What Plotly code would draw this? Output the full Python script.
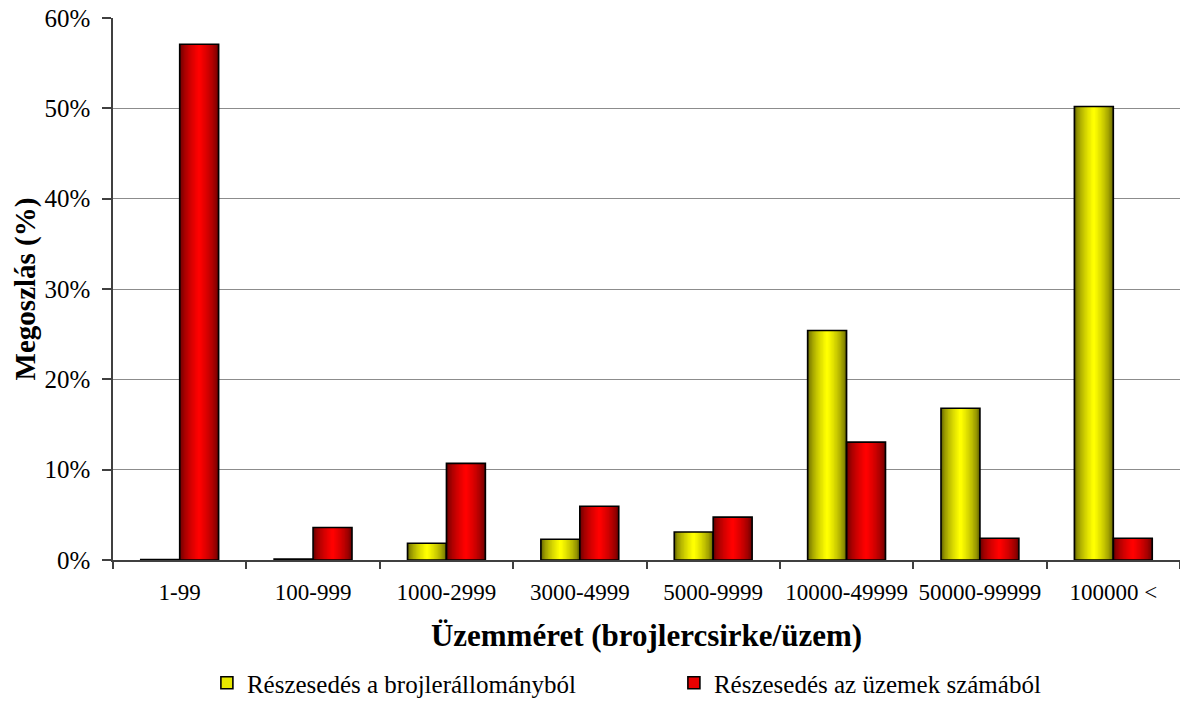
import plotly.graph_objects as go

categories = ["1-99", "100-999", "1000-2999", "3000-4999", "5000-9999",
              "10000-49999", "50000-99999", "100000 <"]
share_stock = [0.05, 0.1, 1.85, 2.3, 3.1, 25.4, 16.8, 50.2]
share_farms = [57.1, 3.6, 10.7, 5.95, 4.75, 13.05, 2.4, 2.4]
series_names = ["Részesedés a brojlerállományból", "Részesedés az üzemek számából"]
y_ticks = [0, 10, 20, 30, 40, 50, 60]
y_tick_labels = ["0%", "10%", "20%", "30%", "40%", "50%", "60%"]

FONT = "'Liberation Serif', 'Times New Roman', Times, serif"
BAR_W = 0.292
N_STEPS = 14


def mix(c1, c2, t):
    return "rgb(%d,%d,%d)" % tuple(round(a + (b - a) * t) for a, b in zip(c1, c2))


fig = go.Figure()

series = [
    (share_stock, series_names[0], -BAR_W, (96, 96, 0), (255, 255, 0)),
    (share_farms, series_names[1], 0.0, (100, 0, 0), (255, 0, 0)),
]

# gradient-like shading: nested bars of decreasing width, brightening toward centre
for values, name, base, dark, bright in series:
    for k in range(N_STEPS):
        f = 1 - k / N_STEPS
        w = BAR_W * f
        t = (k / (N_STEPS - 1)) ** 0.6
        fig.add_trace(go.Bar(
            x=categories, y=values, width=w, offset=base + (BAR_W - w) / 2,
            marker=dict(color=mix(dark, bright, t), line=dict(width=0)),
            showlegend=False, hoverinfo="skip"))
    fig.add_trace(go.Bar(
        x=categories, y=values, width=BAR_W, offset=base, name=name,
        marker=dict(color="rgba(0,0,0,0)", line=dict(color="black", width=1.6)),
        showlegend=False))

# legend entries
for values, name, base, dark, bright in series:
    fig.add_trace(go.Bar(
        x=categories, y=[None] * len(categories), name=name,
        marker=dict(color=mix(dark, bright, 0.85), line=dict(color="black", width=1.6)),
        showlegend=True))

fig.update_layout(
    template="none",
    width=1180, height=708,
    barmode="overlay",
    plot_bgcolor="white", paper_bgcolor="white",
    margin=dict(l=113, r=0, t=18, b=148),
    font=dict(family=FONT, color="black", size=24),
    showlegend=True,
)
fig.update_layout(legend=dict(
    orientation="h", x=0.088, xanchor="left", y=-0.227, yanchor="middle",
    font=dict(size=25, family=FONT, color="black"),
    entrywidth=422, entrywidthmode="pixels", traceorder="normal",
    bgcolor="rgba(0,0,0,0)"))
fig.update_xaxes(
    type="category", tickson="boundaries", ticks="outside", ticklen=7,
    tickcolor="#404040", tickwidth=1.5,
    showline=True, linecolor="#404040", linewidth=1.5, showgrid=False,
    tickfont=dict(size=23, family=FONT, color="black"), ticklabelstandoff=11,
    range=[-0.5, 7.5],
    title=dict(text="<b>Üzemméret (brojlercsirke/üzem)</b>",
               font=dict(size=31, family=FONT, color="black"), standoff=20),
)
fig.update_yaxes(
    range=[0, 60], tickmode="array", tickvals=y_ticks, ticktext=y_tick_labels,
    ticks="outside", ticklen=9, tickcolor="#404040", tickwidth=1.5,
    showline=True, linecolor="#404040", linewidth=1.5,
    showgrid=True, gridcolor="#8c8c8c", gridwidth=1,
    zeroline=False,
    tickfont=dict(size=25, family=FONT, color="black"), ticklabelstandoff=7,
    title=dict(text="<b>Megoszlás (%)</b>", font=dict(size=29, family=FONT, color="black"),
               standoff=0),
)

fig.write_html("out.html", config={"displayModeBar": False},
               post_script="document.body.style.margin='0px';document.body.style.padding='0px';")
